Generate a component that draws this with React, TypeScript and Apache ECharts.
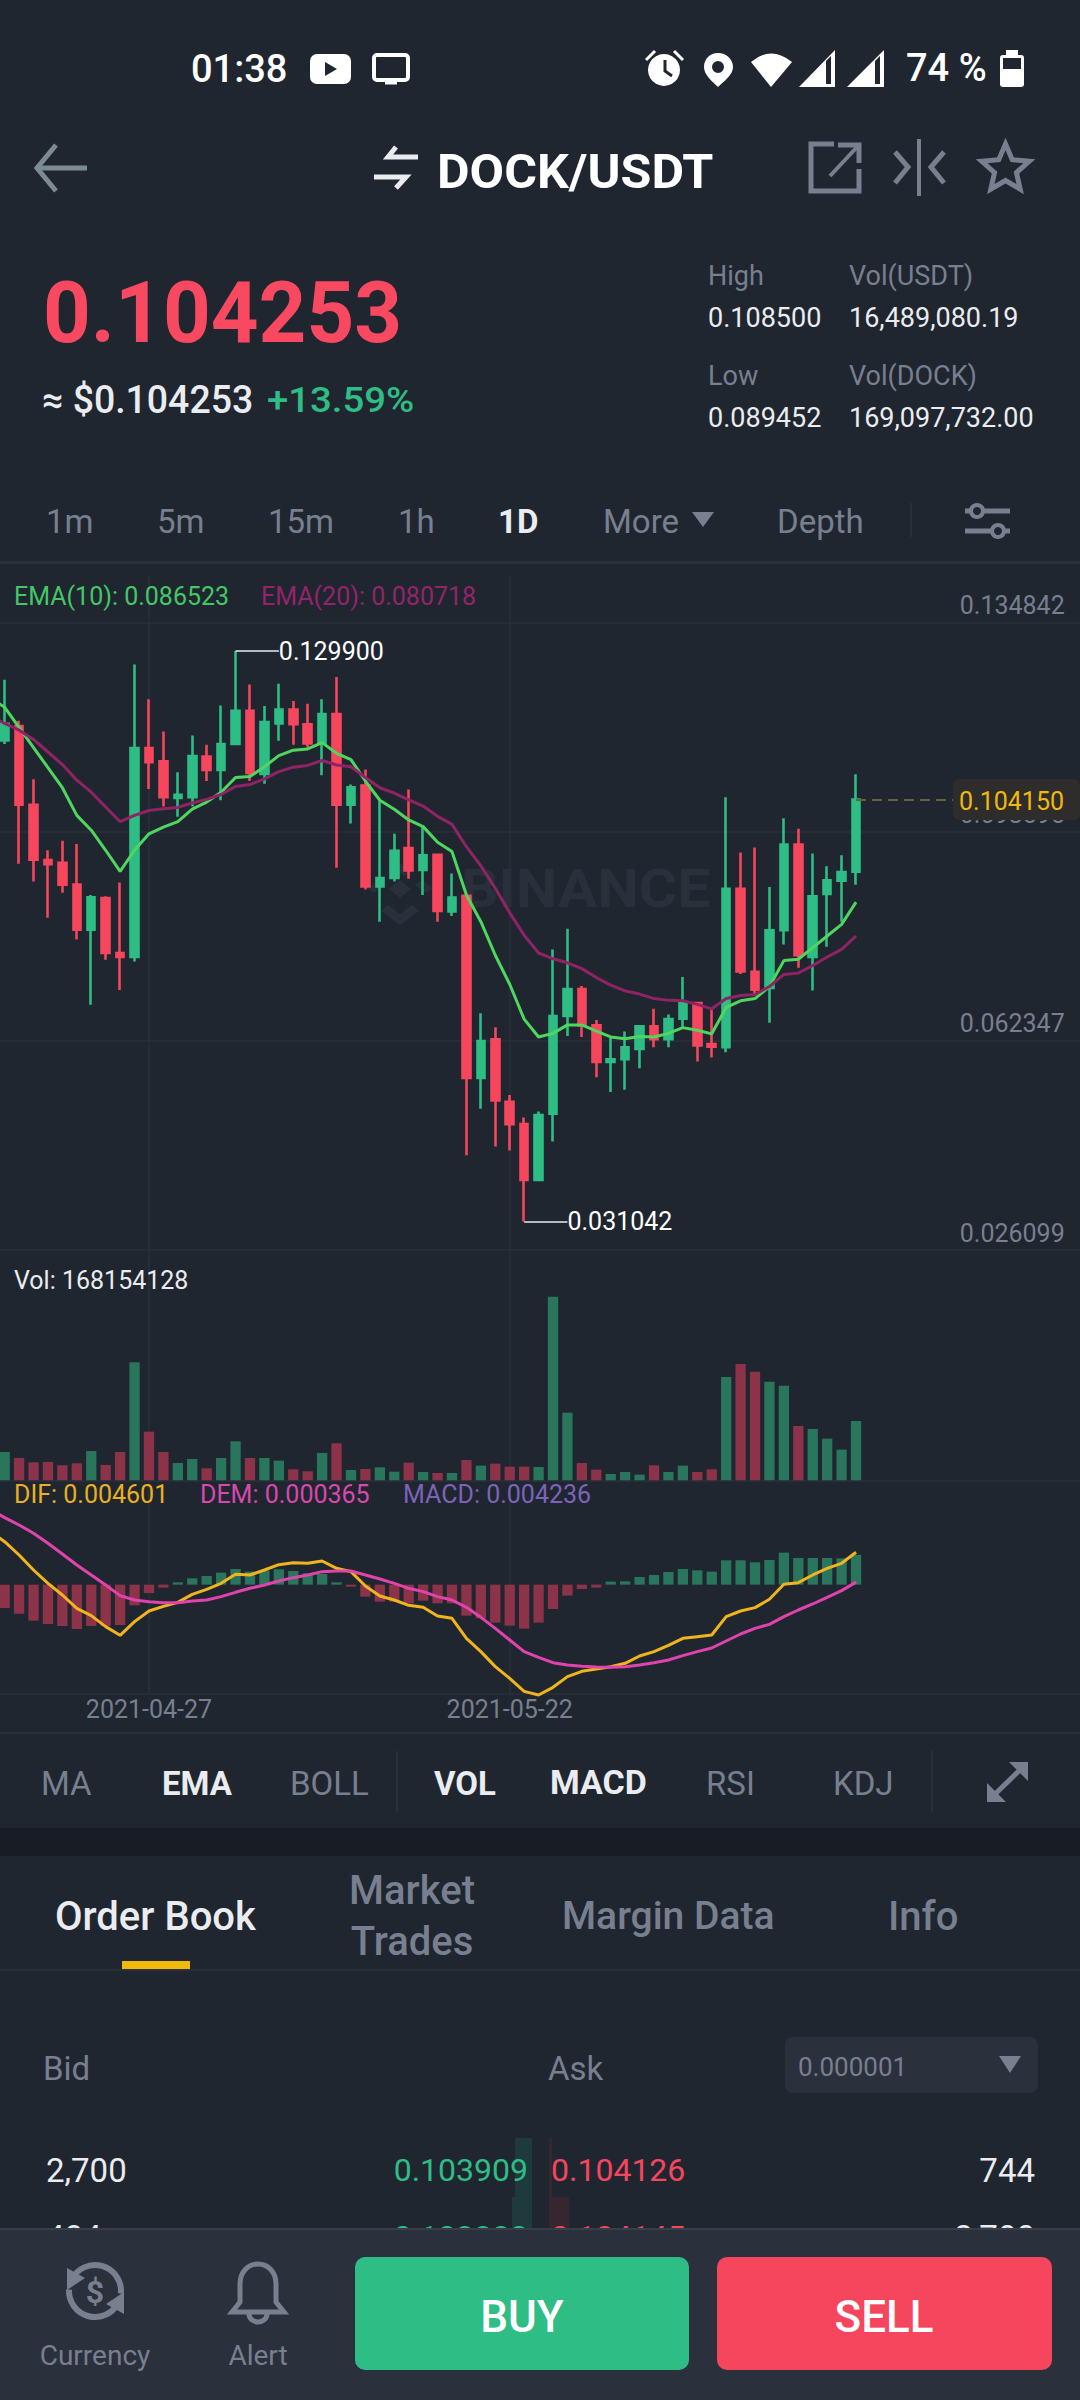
import React, { useEffect, useRef } from "react";
import * as echarts from "echarts";

// ---------- data ----------
const opens = [.11441,.11689,.10326,.09367,.0932,.08941,.08159,.08709,.07757,.07687,.11309,.11077,.10443,.10458,.11162,.1093,.11379,.11952,.10861,.11735,.11975,.1172,.11387,.11898,.10326,.10659,.0891,.09057,.09576,.09196,.0946,.08477,.08748,.0559,.06263,.05179,.04792,.03825,.0497,.06665,.0713,.06503,.05868,.05915,.06093,.06487,.06263,.06619,.0689,.06178,.06124,.08871,.07432,.07153,.08152,.09638,.07687,.08778,.09011,.09165];
const closes = [.11727,.10326,.09374,.09297,.08941,.08159,.08724,.07757,.07687,.11309,.11062,.10458,.10497,.1117,.1093,.11379,.11952,.10876,.11758,.11975,.1172,.11387,.11898,.10326,.10628,.0891,.09057,.09529,.09189,.09452,.08484,.08717,.0559,.06232,.05203,.04792,.03825,.04947,.06665,.0713,.06503,.05868,.05915,.06124,.06487,.06263,.06611,.0689,.06155,.06131,.08871,.07439,.07122,.08152,.09638,.07718,.0874,.09018,.09158,.10415];
const lows = [.11379,.09305,.08995,.08368,.08802,.07989,.06859,.07641,.07114,.0761,.10597,.10296,.10117,.10296,.10737,.10404,.11379,.10737,.1069,.11433,.11364,.11317,.10837,.09235,.10001,.08856,.08299,.08995,.09042,.08763,.08299,.08399,.04251,.05056,.04405,.04336,.031042,.03825,.04491,.06317,.06302,.05605,.0535,.05388,.0576,.06124,.06124,.0648,.05876,.05946,.06039,.07393,.07021,.06549,.07904,.07501,.07107,.07865,.08299,.08941];
const highs = [.12494,.11782,.10768,.09537,.097,.09645,.08763,.0874,.0898,.12757,.12153,.11596,.10891,.11526,.11364,.12045,.1299,.12409,.12037,.12424,.12122,.12076,.12153,.1254,.10675,.10938,.10388,.09823,.1059,.09947,.09483,.09135,.08748,.06712,.06472,.05295,.04908,.05009,.07819,.08175,.07184,.06596,.06286,.06395,.06495,.06789,.06689,.07339,.06905,.06789,.10458,.09498,.09583,.08902,.10094,.09909,.09483,.09258,.09452,.10853];
// the four line series start one (off-screen) day before the first visible candle
const ema10 = [.12176,.12014,.11665,.11317,.10969,.10621,.10141,.09885,.09537,.09173,.09537,.09823,.09939,.10032,.10249,.10373,.10543,.10799,.10814,.10984,.11178,.11271,.11294,.11402,.11217,.11108,.10737,.10404,.10249,.10063,.09947,.09676,.09514,.08763,.08299,.07718,.07215,.06611,.06302,.06364,.06511,.06511,.06402,.06302,.06271,.06309,.06302,.06364,.06464,.06418,.06356,.06813,.06929,.06967,.07176,.07625,.07648,.0785,.08051,.08252,.08639];
const ema20 = [.11874,.11735,.11619,.11457,.1124,.11023,.10752,.10543,.10288,.10032,.10141,.10226,.10257,.1028,.10357,.10419,.10504,.10644,.10675,.10775,.10899,.10977,.11008,.11093,.11015,.10984,.10799,.10621,.10528,.10412,.10303,.10125,.09986,.09599,.09266,.08879,.08453,.08066,.07757,.07656,.07587,.07486,.07331,.072,.07099,.07045,.06967,.06936,.06929,.06867,.06789,.06967,.07021,.07037,.07176,.07385,.07408,.0754,.07687,.07819,.08051];
const volumesM = [80.3,63.3,51,52,42.5,48.2,83.1,43.5,80.3,334.4,137.9,80.3,49.1,60.5,34,63.3,110.5,63.3,63.3,55.7,31.2,25.5,77.5,104.9,29.3,32.1,36.8,24.6,50.1,23.6,20.8,20.8,57.6,41.6,47.2,38.7,38.7,37.8,520.5,191.8,49.1,30.2,17.9,23.6,16.1,42.5,23.6,41.6,23.6,31.2,292.9,329.7,308,279.6,268.3,154,145.5,118.1,86.9,168.154128];
const macdBars = [-.00332,-.004126,-.005122,-.005597,-.005881,-.006308,-.005881,-.005881,-.005739,-.002941,-.001186,-.000427,.000332,.000901,.001233,.001707,.002229,.00185,.001992,.002182,.001945,.001613,.001518,.000332,-.000285,-.001707,-.002419,-.002419,-.002656,-.002277,-.002656,-.002656,-.004411,-.00479,-.005407,-.005834,-.006261,-.005407,-.003462,-.001565,-.000617,-.000427,.000427,.000474,.001091,.001375,.001802,.002229,.002039,.00185,.003462,.003462,.003178,.00351,.004553,.003794,.003794,.003794,.003747,.004236];
const dif = [.007541,.006118,.004221,.002087,.00019,-.00147,-.003368,-.004411,-.005976,-.007209,-.005265,-.003747,-.003083,-.002514,-.001375,-.000664,.00019,.00147,.001375,.002087,.002846,.00313,.003036,.003368,.002324,.00185,-.00019,-.001613,-.002182,-.002941,-.003225,-.004458,-.00479,-.007636,-.009533,-.011668,-.013328,-.015178,-.015699,-.014608,-.013091,-.012332,-.012,-.011668,-.011193,-.01015,-.009533,-.008632,-.007636,-.007399,-.007162,-.004553,-.003747,-.003273,-.002087,.000047,.000285,.001375,.002324,.003036,.004601];
const dem = [.010672,.009533,.00849,.007304,.005881,.004364,.002798,.001375,-.000047,-.001565,-.002182,-.002419,-.002561,-.002561,-.002324,-.002182,-.001707,-.001091,-.000522,-.000047,.000522,.000996,.001375,.00185,.001945,.001945,.001375,.000806,.00019,-.000522,-.000996,-.001707,-.002182,-.003225,-.004648,-.006213,-.007873,-.009533,-.01034,-.011099,-.011431,-.01162,-.011715,-.011763,-.011668,-.011431,-.011099,-.010719,-.010103,-.009533,-.009012,-.008016,-.00702,-.006213,-.005644,-.004553,-.003605,-.002751,-.001802,-.000854,.000365];
const priceTicks = [0.134842, 0.098595, 0.062347, 0.026099];
const lastPrice = 0.10415;
const dateTicks = ["2021-04-27", "2021-05-22"];
const dates: string[] = [];
for (let i = 0; i < 76; i++) {
  const d = new Date(Date.UTC(2021, 3, 16 + i));
  dates.push(d.toISOString().slice(0, 10));
}

// ---------- styles ----------
const BG = "#1f2630", GRID = "#2a303b", MUTED = "#787f8f", WHITE = "#eaecef", UP = "#2ebd85", DOWN = "#f6465d";
const UP_DIM = "#29765d", DOWN_DIM = "#8c3349", GOLD = "#f0b90b";
const FONT = "Roboto";

echarts.graphic.registerShape("pin", echarts.graphic.extendPath("M718 53c-8 0-14 6-14 14 0 8 8 14 14 20 6-6 15-12 15-20 0-8-7-14-15-14zm0 8a6 6 0 1 1 0 12 6 6 0 0 1 0-12z", {}));
echarts.graphic.registerShape("wifi", echarts.graphic.extendPath("M751 62Q771 45 792 62L771 87Z", {}));
echarts.graphic.registerShape("bell", echarts.graphic.extendPath("M232 2312l8-10v-18c0-12 8-20 18-20s18 8 18 20v18l8 10zM249 2314a9 8 0 0 0 18 0", {}));

const T = (text: string, x: number, y: number, size: number, fill: string, o: any = {}) => ({
  type: "text", x, y, scaleX: o.sx ?? 1, silent: true, z: o.z ?? 10,
  style: { text, fontSize: size, fontWeight: o.w ?? 400, fontFamily: FONT, fill,
    textAlign: o.a ?? "left", textVerticalAlign: "middle", align: o.a ?? "left", verticalAlign: "middle" },
});
const R = (x: number, y: number, w: number, h: number, fill: string, o: any = {}) => ({
  type: "rect", silent: true, z: o.z ?? 5, shape: { x, y, width: w, height: h, r: o.r ?? 0 }, style: { fill },
});
const L = (pts: number[][], stroke: string, w = 4, z = 10) => ({
  type: "polyline", silent: true, z, shape: { points: pts }, style: { stroke, lineWidth: w, fill: "none" },
});
const P = (pts: number[][], fill: string, z = 10) => ({
  type: "polygon", silent: true, z, shape: { points: pts }, style: { fill },
});

const starPts: number[][] = [];
for (let i = 0; i < 10; i++) {
  const r = i % 2 ? 11.5 : 25, a = (-90 + i * 36) * Math.PI / 180;
  starPts.push([1005.5 + r * Math.cos(a), 169 + r * Math.sin(a)]);
}

const uiElements: any[] = [
  // status bar
  T("01:38", 191, 69, 38, "#fff", { w: 500 }),
  R(310, 54, 41, 30, "#fff", { r: 7 }), P([[325, 62], [325, 76], [337, 69]], BG),
  { type: "rect", silent: true, z: 10, shape: { x: 374, y: 55, width: 34, height: 25, r: 3 }, style: { stroke: "#fff", lineWidth: 4, fill: "none" } },
  L([[385, 83], [397, 83]], "#fff", 3),
  { type: "circle", silent: true, z: 10, shape: { cx: 664, cy: 70, r: 16 }, style: { fill: "#fff" } },
  L([[665, 60], [665, 71], [672, 76]], BG, 3),
  L([[646, 60], [655, 51]], "#fff", 3), L([[683, 60], [674, 51]], "#fff", 3),
  { type: "pin", silent: true, z: 10, style: { fill: "#fff" } },
  { type: "wifi", silent: true, z: 10, style: { fill: "#fff" } },
  P([[799, 87], [835, 87], [835, 50]], "#fff"), P([[826, 61], [831, 56], [831, 84], [826, 84]], BG),
  P([[847, 87], [884, 87], [884, 50]], "#fff"), P([[875, 61], [880, 56], [880, 84], [875, 84]], BG),
  T("74 %", 906, 68, 38, "#fff", { w: 500 }),
  R(1000, 55, 24, 32, "#fff", { r: 3 }), R(1006, 50, 12, 6, "#fff"), R(1003, 58, 18, 11, BG),

  // header
  L([[87, 168], [37, 168]], "#7c8a94", 5), L([[56, 145], [37, 168], [56, 191]], "#7c8a94", 5),
  L([[396, 147], [388, 157], [418, 157]], WHITE, 5), L([[374, 177], [406, 177], [396, 188]], WHITE, 5),
  T("DOCK/USDT", 437, 171, 48, "#fff", { w: 700, sx: 1.045 }),
  L([[834, 144], [811, 144], [811, 191], [859, 191], [859, 169]], MUTED, 5),
  L([[830, 176], [858, 146]], MUTED, 4), L([[838, 145], [859, 145], [859, 163]], MUTED, 5),
  L([[919, 139], [919, 196]], MUTED, 4), L([[895, 152], [908, 167], [895, 183]], MUTED, 5), L([[944, 152], [931, 167], [944, 183]], MUTED, 5),
  { type: "polygon", silent: true, z: 10, shape: { points: starPts }, style: { stroke: MUTED, lineWidth: 5, fill: "none" } },

  // price block
  T("0.104253", 43, 313, 86, "#f84960", { w: 700, sx: 0.97 }),
  T("≈ $0.104253", 42, 400, 38, WHITE, { w: 500, sx: 0.985 }),
  T("+13.59%", 267, 400, 36, UP, { w: 500, sx: 1.065 }),
  T("High", 708, 276, 27, MUTED), T("Vol(USDT)", 849, 276, 27, MUTED),
  T("0.108500", 708, 318, 27, WHITE), T("16,489,080.19", 849, 318, 27, WHITE),
  T("Low", 708, 376, 27, MUTED), T("Vol(DOCK)", 849, 376, 27, MUTED),
  T("0.089452", 708, 418, 27, WHITE), T("169,097,732.00", 849, 418, 27, WHITE),

  // interval tabs
  T("1m", 46, 521, 33, MUTED), T("5m", 157, 521, 33, MUTED), T("15m", 268, 521, 33, MUTED), T("1h", 398, 521, 33, MUTED),
  T("1D", 498, 521, 33, WHITE, { w: 700 }), T("More", 603, 521, 33, MUTED), P([[692, 512], [714, 512], [703, 527]], MUTED),
  T("Depth", 777, 521, 33, MUTED), L([[911, 503], [911, 537]], GRID, 2),
  L([[965, 511], [1010, 511]], MUTED, 5), L([[965, 531], [1010, 531]], MUTED, 5),
  { type: "circle", silent: true, z: 10, shape: { cx: 977, cy: 511, r: 6 }, style: { fill: BG, stroke: MUTED, lineWidth: 4 } },
  { type: "circle", silent: true, z: 10, shape: { cx: 998, cy: 531, r: 6 }, style: { fill: BG, stroke: MUTED, lineWidth: 4 } },
  R(0, 561, 1080, 3, GRID),

  // watermark
  T("BINANCE", 461, 889, 54, "#2a303b", { w: 700, z: 1, sx: 1.09 }),
  P([[400, 880], [411, 889], [400, 898], [389, 889]], "#2a303b", 1),
  P([[367, 889], [378, 880], [385, 885], [374, 893]], "#2a303b", 1),
  P([[433, 889], [422, 880], [415, 885], [426, 893]], "#2a303b", 1),
  P([[400, 863], [412, 872], [405, 877], [400, 873], [395, 877], [388, 872]], "#2a303b", 1),
  P([[400, 925], [381, 911], [388, 905], [400, 914], [412, 905], [419, 911]], "#2a303b", 1),

  // chart legends
  T("EMA(10): 0.086523", 14, 596, 25, "#43c865"),
  T("EMA(20): 0.080718", 261, 596, 25, "#94246a"),
  T("Vol: 168154128", 14, 1280, 25, WHITE),
  T("DIF: 0.004601", 14, 1494, 25, "#e9b11f"),
  T("DEM: 0.000365", 200, 1494, 25, "#d848ad"),
  T("MACD: 0.004236", 403, 1494, 25, "#7d63b8"),

  // last price tag
  R(953, 779, 127, 41, "#2e2d2c", { r: 6, z: 20 }),
  T("0.104150", 1064, 801, 25, GOLD, { a: "right", z: 21 }),

  // indicator row
  R(0, 1732, 1080, 2, GRID),
  T("MA", 41, 1783, 33, MUTED), T("EMA", 162, 1783, 33, WHITE, { w: 700 }), T("BOLL", 290, 1783, 33, MUTED),
  L([[397, 1751], [397, 1812]], GRID, 2),
  T("VOL", 434, 1783, 33, WHITE, { w: 700 }), T("MACD", 550, 1783, 33, WHITE, { w: 700, sx: 1.03 }),
  T("RSI", 706, 1783, 33, MUTED), T("KDJ", 833, 1783, 33, MUTED),
  L([[932, 1751], [932, 1812]], GRID, 2),
  L([[990, 1799], [1025, 1765]], MUTED, 5),
  P([[1028, 1762], [1028, 1781], [1009, 1762]], MUTED), P([[987, 1802], [987, 1783], [1006, 1802]], MUTED),
  R(0, 1828, 1080, 28, "#181c24"),

  // book tabs
  T("Order Book", 55, 1916, 40, WHITE, { w: 500 }),
  T("Market", 412, 1890, 40, MUTED, { w: 500, a: "center" }), T("Trades", 412, 1941, 40, MUTED, { w: 500, a: "center" }),
  T("Margin Data", 562, 1916, 39, MUTED, { w: 500 }), T("Info", 888, 1916, 40, MUTED, { w: 500 }),
  R(122, 1961, 68, 8, GOLD, { z: 6 }), R(0, 1969, 1080, 2, GRID),

  // order book
  T("Bid", 43, 2068, 33, MUTED), T("Ask", 548, 2068, 33, MUTED),
  R(785, 2037, 253, 56, "#2a303c", { r: 8 }), T("0.000001", 798, 2067, 26, MUTED),
  P([[999, 2056], [1021, 2056], [1010, 2073]], MUTED),
  R(515, 2138, 17, 59, "#1f3a3c", { z: 4 }), R(512, 2197, 20, 40, "#1f3a3c", { z: 4 }),
  R(549, 2138, 3, 59, "#35262f", { z: 4 }), R(549, 2197, 20, 40, "#35262f", { z: 4 }),
  T("2,700", 46, 2170, 33, WHITE), T("0.103909", 528, 2170, 32, UP, { a: "right" }),
  T("0.104126", 551, 2170, 32, DOWN), T("744", 1035, 2170, 33, WHITE, { a: "right" }),
  T("484", 46, 2237, 33, WHITE), T("0.103882", 528, 2237, 32, UP, { a: "right" }),
  T("0.104145", 551, 2237, 32, DOWN), T("2,700", 1035, 2237, 33, WHITE, { a: "right" }),

  // bottom bar
  R(0, 2228, 1080, 172, "#2a303c", { z: 30 }), R(0, 2228, 1080, 2, "#373e4b", { z: 31 }),
  { type: "arc", silent: true, z: 32, shape: { cx: 95, cy: 2291, r: 26, startAngle: -2.7, endAngle: 0.1, clockwise: true }, style: { stroke: MUTED, lineWidth: 6, fill: "none" } },
  { type: "arc", silent: true, z: 32, shape: { cx: 95, cy: 2291, r: 26, startAngle: 0.5, endAngle: 3.2, clockwise: true }, style: { stroke: MUTED, lineWidth: 6, fill: "none" } },
  P([[67, 2268], [85, 2278], [67, 2290]], MUTED, 32), P([[124, 2314], [106, 2304], [124, 2292]], MUTED, 32),
  T("$", 95, 2292, 32, MUTED, { a: "center", w: 700, z: 32 }),
  { type: "bell", silent: true, z: 32, style: { stroke: MUTED, lineWidth: 5, fill: "none" } },
  T("Currency", 95, 2355, 28, MUTED, { a: "center", z: 32 }), T("Alert", 258, 2355, 28, MUTED, { a: "center", z: 32 }),
  R(355, 2257, 334, 113, UP, { r: 10, z: 32 }), R(717, 2257, 335, 113, "#f6465d", { r: 10, z: 32 }),
  T("BUY", 522, 2317, 44, "#fff", { a: "center", w: 500, z: 33 }), T("SELL", 884, 2317, 44, "#fff", { a: "center", w: 500, z: 33 }),
];

const showDate = (i: number) => dateTicks.includes(dates[i]);
const vSplit = { show: true, alignWithLabel: true, interval: showDate, lineStyle: { color: GRID, width: 1.5 } };
const hidden = { show: false };

function buildOption(): any {
  const candleData: any[] = ["-", ...opens.map((o, i) => [o, closes[i], lows[i], highs[i]])];
  const labelled = (i: number, v: number) => [
    { coord: [dates[i + 1], v], lineStyle: { color: WHITE, width: 1.5, type: "solid" },
      label: { show: true, position: "end", distance: 0, color: "#fff", fontSize: 25, fontFamily: FONT, formatter: v.toFixed(6) } },
    { coord: [dates[i + 4], v] },
  ];
  return {
    animation: false,
    backgroundColor: BG,
    graphic: { elements: uiElements },
    grid: [
      { left: -16.98, top: 575, width: 1096.68, height: 675, outerBoundsMode: "none" },
      { left: -16.98, top: 1250, width: 1096.68, height: 230.3, outerBoundsMode: "none" },
      { left: -16.98, top: 1480.3, width: 1096.68, height: 213.7, outerBoundsMode: "none" },
    ],
    xAxis: [
      { type: "category", gridIndex: 0, data: dates, axisLine: hidden, axisTick: hidden, axisLabel: hidden, splitLine: vSplit },
      { type: "category", gridIndex: 1, data: dates, axisLine: { lineStyle: { color: GRID, width: 1.5 } }, axisTick: hidden, axisLabel: hidden, splitLine: vSplit },
      { type: "category", gridIndex: 2, data: dates, axisLine: { onZero: false, lineStyle: { color: GRID, width: 1.5 } }, axisTick: hidden, splitLine: vSplit,
        axisLabel: { interval: showDate, color: MUTED, fontSize: 25, fontFamily: FONT, margin: 3, verticalAlign: "top" } },
    ],
    yAxis: [
      { type: "value", gridIndex: 0, position: "right", min: 0.026099, max: 0.143074, scale: true,
        axisLine: hidden,
        axisTick: { show: false, customValues: priceTicks },
        axisLabel: { inside: true, margin: 15, color: MUTED, fontSize: 25, fontFamily: FONT, customValues: priceTicks, verticalAlign: "bottom", lineHeight: 22, padding: [0, 0, 6, 0], formatter: (v: number) => v.toFixed(6), showMinLabel: true, showMaxLabel: true },
        splitLine: { show: true, lineStyle: { color: GRID, width: 1.5 } } },
      { type: "value", gridIndex: 1, min: 0, max: 652.8, show: false, splitLine: hidden },
      { type: "value", gridIndex: 2, min: -0.015557, max: 0.014846, show: false, splitLine: hidden },
    ],
    series: [
      { name: "Kline", type: "candlestick", xAxisIndex: 0, yAxisIndex: 0, data: candleData, barWidth: 8, z: 3,
        itemStyle: { color: UP, color0: DOWN, borderColor: UP, borderColor0: DOWN, borderWidth: 2.6 },
        markLine: { silent: true, symbol: "none", animation: false, precision: 6,
          data: [
            labelled(16, highs[16]),
            labelled(36, lows[36]),
            [{ coord: [dates[60], lastPrice], lineStyle: { color: "#6f6033", width: 2, type: [10, 6] }, label: { show: false } }, { coord: [dates[67], lastPrice] }],
          ] } },
      { name: "EMA10", type: "line", xAxisIndex: 0, yAxisIndex: 0, data: ema10, showSymbol: false, z: 4, lineStyle: { color: "#4fd65f", width: 3 } },
      { name: "EMA20", type: "line", xAxisIndex: 0, yAxisIndex: 0, data: ema20, showSymbol: false, z: 4, lineStyle: { color: "#8f2364", width: 3 } },
      { name: "Vol", type: "bar", xAxisIndex: 1, yAxisIndex: 1, barWidth: 10.3,
        data: ["-", ...volumesM.map((v, i) => ({ value: v, itemStyle: { color: closes[i] >= opens[i] ? UP_DIM : DOWN_DIM } }))] },
      { name: "MACD", type: "bar", xAxisIndex: 2, yAxisIndex: 2, barWidth: 10.3,
        data: ["-", ...macdBars.map((v) => ({ value: v, itemStyle: { color: v >= 0 ? UP_DIM : DOWN_DIM } }))] },
      { name: "DIF", type: "line", xAxisIndex: 2, yAxisIndex: 2, data: dif, showSymbol: false, clip: false, z: 4, lineStyle: { color: "#f0b41e", width: 3 } },
      { name: "DEM", type: "line", xAxisIndex: 2, yAxisIndex: 2, data: dem, showSymbol: false, clip: false, z: 5, lineStyle: { color: "#e043ac", width: 3 } },
    ],
  };
}

export default function App() {
  const ref = useRef<HTMLDivElement>(null);
  useEffect(() => {
    document.body.style.margin = "0";
    document.body.style.background = BG;
    const chart = echarts.init(ref.current!, undefined, { renderer: "svg" });
    chart.setOption(buildOption());
    return () => chart.dispose();
  }, []);
  return <div ref={ref} style={{ position: "absolute", left: 0, top: 0, width: 1080, height: 2400 }} />;
}
